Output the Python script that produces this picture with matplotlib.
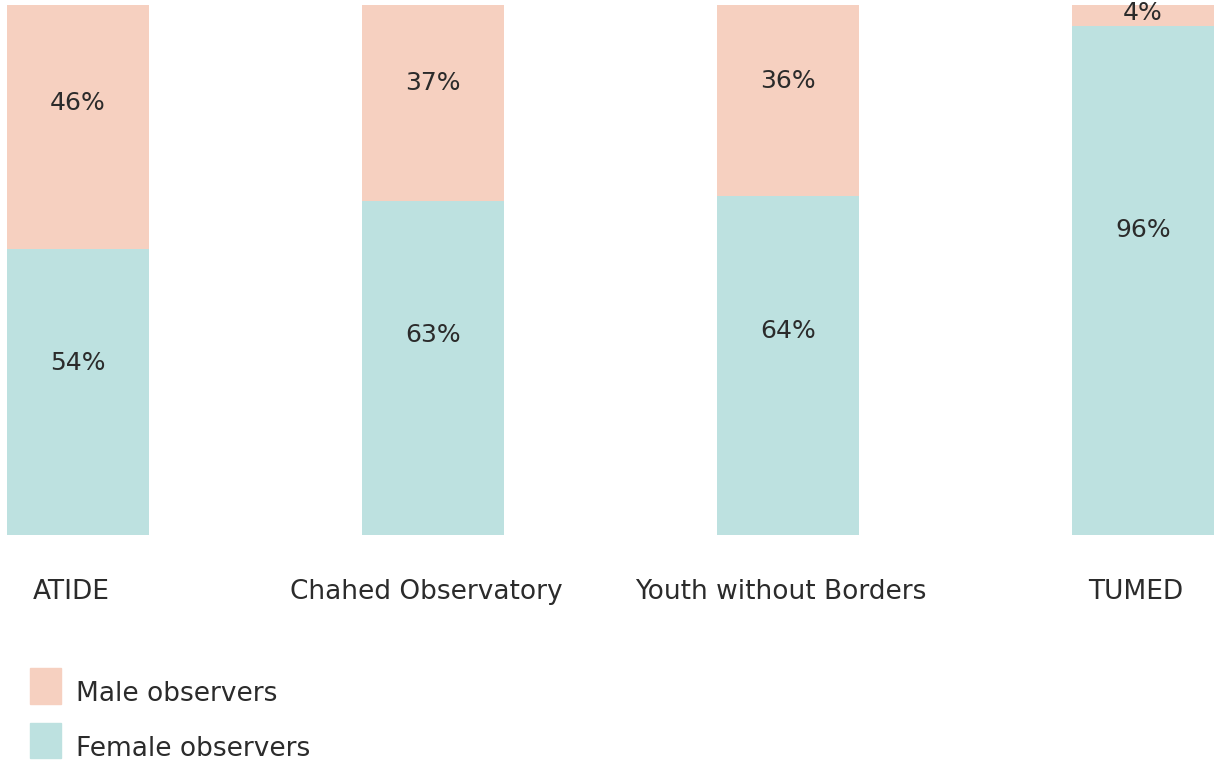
import numpy as np
import matplotlib.pyplot as plt
from matplotlib.patches import Rectangle

groups = ['ATIDE', 'Chahed Observatory', 'Youth without Borders', 'TUMED']
female = np.array([54, 63, 64, 96])
male = np.array([46, 37, 36, 4])

c_male = '#F6D0C0'
c_female = '#BDE1E0'
c_text = '#2b2b2b'

fig = plt.figure(figsize=(12.15, 7.62), dpi=100)
ax = fig.add_axes([0, 1 - 535 / 762, 1, 530 / 762])

x = np.arange(len(groups))
ax.bar(x, female, width=0.4, color=c_female)
ax.bar(x, male, width=0.4, bottom=female, color=c_male)

for i in range(len(groups)):
    ax.text(x[i], female[i] * 0.6, '%d%%' % female[i], ha='center', va='center',
            fontsize=18, color=c_text)
    ax.text(x[i], female[i] + male[i] * 0.6, '%d%%' % male[i], ha='center', va='center',
            fontsize=18, color=c_text)

ax.set_xlim(-78 / 355, 3 + 72 / 355)
ax.set_ylim(0, 100)
ax.axis('off')

# category labels below the bars
for i, g in enumerate(groups):
    ax.annotate(g, xy=(x[i], 0), xytext=(-5, -41), textcoords='offset points',
                ha='center', va='center', fontsize=19, color=c_text,
                annotation_clip=False)

# legend
fig.add_artist(Rectangle((30 / 1215, 1 - 704 / 762), 31 / 1215, 36 / 762,
                         transform=fig.transFigure, color=c_male))
fig.add_artist(Rectangle((30 / 1215, 1 - 758 / 762), 31 / 1215, 35 / 762,
                         transform=fig.transFigure, color=c_female))
fig.text(76 / 1215, 1 - 694 / 762, 'Male observers', va='center', fontsize=19, color=c_text)
fig.text(76 / 1215, 1 - 749 / 762, 'Female observers', va='center', fontsize=19, color=c_text)

plt.savefig('out.png')
